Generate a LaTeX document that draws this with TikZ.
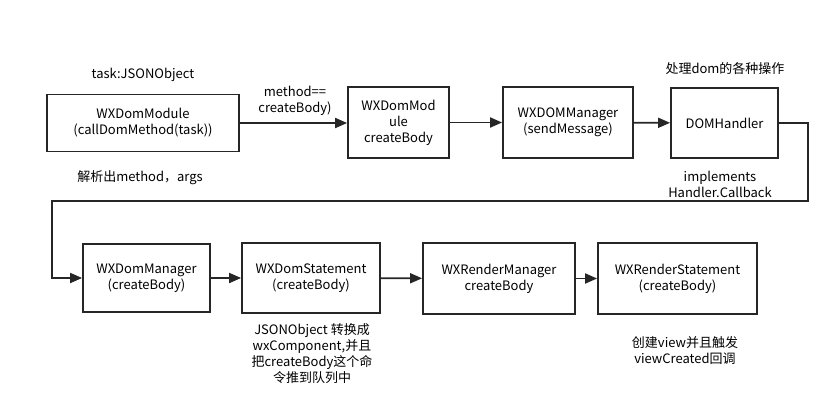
\documentclass[tikz,border=0pt]{standalone}
\usepackage{fontspec}
\setmainfont{Noto Sans CJK SC}
\usetikzlibrary{arrows.meta}
\tikzset{
  box/.style={draw=black!85, line width=1.8pt, minimum width=#1, inner sep=0pt, align=center, font=\fontsize{13}{16}\selectfont},
  lbl/.style={align=center, inner sep=0pt, font=\fontsize{13}{16}\selectfont},
  conn/.style={draw=black!85, line width=1.8pt, -{Triangle[length=12pt,width=10pt]}},
}
\begin{document}
\begin{tikzpicture}[x=1pt,y=-1pt]
\useasboundingbox (0,0) rectangle (840,417);
% top row
\node[box=192pt, minimum height=57pt] (m1) at (143,123) {WXDomModule\\(callDomMethod(task))};
\node[box=101pt, minimum height=71pt] (m2) at (398.5,122.5) {WXDomMod\\ule\\createBody};
\node[box=130pt, minimum height=71pt] (m3) at (568,122.5) {WXDOMManager\\(sendMessage)};
\node[box=107pt, minimum height=70pt] (m4) at (724.5,123) {DOMHandler};
% bottom row
\node[box=127pt, minimum height=68pt] (b1) at (146.5,278) {WXDomManager\\(createBody)};
\node[box=138pt, minimum height=70pt] (b2) at (311,278) {WXDomStatement\\(createBody)};
\node[box=152pt, minimum height=71pt] (b3) at (499,278.5) {WXRenderManager\\createBody};
\node[box=159pt, minimum height=71pt] (b4) at (677.5,278.5) {WXRenderStatement\\(createBody)};
% labels
\node[lbl] (t1) at (143,75) {task:JSONObject};
\node[lbl] (t2) at (295,101) {method==\\createBody)};
\node[lbl] (t3) at (140,178) {解析出method，args};
\node[lbl] (t4) at (725,69) {处理dom的各种操作};
\node[lbl] (t5) at (720,184) {implements\\Handler.Callback};
\node[lbl] (t6) at (312,354) {JSONObject 转换成\\wxComponent,并且\\把createBody这个命\\令推到队列中};
\node[lbl] (t7) at (685,351) {创建view并且触发\\viewCreated回调};
% connectors
\coordinate (c1) at (808,123);
\coordinate (c2) at (808,201);
\coordinate (c3) at (52,201);
\coordinate (c4) at (52,278);
\draw[conn] (m1.east) -- (m2.west |- m1.east);
\draw[conn] (m2) -- (m3);
\draw[conn] (m3) -- (m4);
\draw[conn] (m4.east) -- (c1) -- (c2) -- (c3) -- (c4) -- (b1.west);
\draw[conn] (b1) -- (b2);
\draw[conn] (b2) -- (b3);
\draw[conn] (b3) -- (b4);
\end{tikzpicture}
\end{document}
